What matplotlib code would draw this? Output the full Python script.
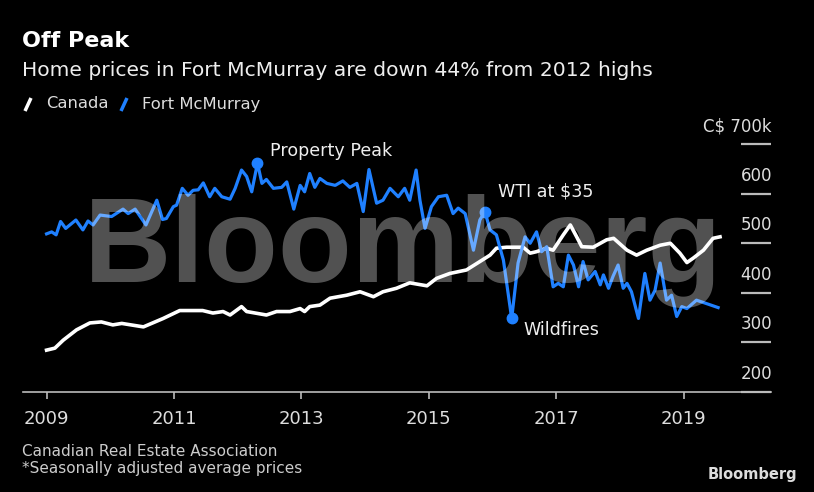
import numpy as np
import matplotlib
matplotlib.use("Agg")
import matplotlib.pyplot as plt
from matplotlib.lines import Line2D

# data (decimal year, C$ thousands)
canada_year = [2009.0, 2009.13, 2009.26, 2009.47, 2009.68, 2009.86, 2010.04, 2010.18, 2010.52, 2010.83,
               2011.09, 2011.45, 2011.61, 2011.77, 2011.88, 2012.06, 2012.14, 2012.45, 2012.61, 2012.82,
               2012.98, 2013.05, 2013.13, 2013.29, 2013.45, 2013.71, 2013.92, 2014.13, 2014.28, 2014.49,
               2014.70, 2014.97, 2015.12, 2015.33, 2015.59, 2015.80, 2015.96, 2016.06, 2016.22, 2016.48,
               2016.59, 2016.69, 2016.85, 2016.95, 2017.11, 2017.22, 2017.32, 2017.40, 2017.58, 2017.79,
               2017.90, 2018.11, 2018.26, 2018.42, 2018.63, 2018.79, 2018.94, 2019.05, 2019.15, 2019.31,
               2019.46, 2019.57]
canada_price = [284, 288, 304, 325, 339, 341, 335, 338, 331, 348,
                364, 364, 359, 362, 355, 372, 362, 355, 362, 362,
                368, 362, 372, 375, 389, 395, 402, 392, 402, 409,
                420, 414, 429, 439, 446, 463, 476, 490, 492, 492,
                480, 483, 490, 486, 517, 537, 513, 493, 492, 507,
                510, 486, 476, 486, 496, 500, 480, 461, 470, 486,
                510, 513]

fmm_year = [2009.0, 2009.08, 2009.15, 2009.22, 2009.30, 2009.46, 2009.57, 2009.65, 2009.73, 2009.84,
            2010.02, 2010.20, 2010.28, 2010.39, 2010.56, 2010.73, 2010.82, 2010.88, 2010.99, 2011.04,
            2011.13, 2011.22, 2011.30, 2011.38, 2011.46, 2011.56, 2011.64, 2011.75, 2011.88, 2011.96,
            2012.06, 2012.14, 2012.22, 2012.31, 2012.38, 2012.45, 2012.56, 2012.69, 2012.77, 2012.88,
            2012.98, 2013.05, 2013.13, 2013.21, 2013.29, 2013.40, 2013.53, 2013.65, 2013.76, 2013.87,
            2013.97, 2014.06, 2014.18, 2014.28, 2014.39, 2014.52, 2014.62, 2014.70, 2014.80, 2014.86,
            2014.94, 2015.04, 2015.15, 2015.28, 2015.38, 2015.46, 2015.57, 2015.70, 2015.80, 2015.88,
            2015.96, 2016.06, 2016.17, 2016.30, 2016.40, 2016.51, 2016.59, 2016.69, 2016.77, 2016.85,
            2016.95, 2017.03, 2017.11, 2017.19, 2017.27, 2017.35, 2017.42, 2017.50, 2017.61, 2017.69,
            2017.74, 2017.82, 2017.89, 2017.97, 2018.05, 2018.11, 2018.18, 2018.29, 2018.39, 2018.47,
            2018.55, 2018.63, 2018.73, 2018.81, 2018.89, 2018.97, 2019.05, 2019.20, 2019.36, 2019.54]
fmm_price = [519, 523, 517, 544, 530, 547, 527, 545, 537, 557,
             554, 569, 560, 569, 537, 587, 548, 550, 574, 577,
             611, 597, 607, 608, 622, 594, 611, 594, 589, 611,
             648, 635, 604, 662, 621, 629, 611, 613, 624, 569,
             617, 604, 641, 613, 631, 621, 617, 626, 613, 621,
             564, 649, 581, 587, 611, 594, 611, 587, 648, 587,
             530, 574, 594, 597, 560, 571, 560, 486, 547, 564,
             527, 517, 466, 348, 460, 513, 500, 523, 483, 493,
             412, 419, 412, 476, 456, 412, 463, 426, 443, 416,
             436, 409, 433, 456, 409, 419, 402, 348, 439, 385,
             405, 460, 385, 395, 352, 372, 368, 385, 378, 370]

event_year = [2012.31, 2015.88, 2016.30]
event_price = [662, 564, 348]
event_label = ["Property Peak", "WTI at $35", "Wildfires"]
event_offset = [(13, 12), (13, 20), (12, -12)]

x_ticks = [2009, 2011, 2013, 2015, 2017, 2019]
y_ticks = [200, 300, 400, 500, 600, 700]
y_labels = ["200", "300", "400", "500", "600", "C$ 700k"]

W, H = 814, 492
FONT = "DejaVu Sans"
BLUE = "#1f80ff"

fig = plt.figure(figsize=(W / 100, H / 100), dpi=100, facecolor="black")
ax = fig.add_axes([23 / W, 1 - 391.7 / H, 748 / W, 247.4 / H])
ax.set_facecolor("black")

ax.plot(canada_year, canada_price, color="white", lw=2.6, solid_joinstyle="round", zorder=3)
ax.plot(fmm_year, fmm_price, color=BLUE, lw=2.3, solid_joinstyle="round", zorder=4)
ax.plot(event_year, event_price, "o", color=BLUE, ms=7.5, zorder=5)
for xv, yv, lab, off in zip(event_year, event_price, event_label, event_offset):
    ax.annotate(lab, (xv, yv), xytext=off, textcoords="offset pixels",
                ha="left", va="center", color="#eeeeee", fontsize=12.6,
                family=FONT, zorder=6)

ax.set_xlim(2008.63, 2020.37)
ax.set_ylim(200, 700)
for s in ["top", "left", "right"]:
    ax.spines[s].set_visible(False)
ax.spines["bottom"].set_color("#bbbbbb")
ax.spines["bottom"].set_linewidth(1.2)

ax.set_xticks(x_ticks)
ax.set_xticklabels([str(t) for t in x_ticks], family=FONT, fontsize=13, color="#dddddd")
ax.tick_params(axis="x", direction="out", length=5, width=1.2, color="#bbbbbb", pad=8)

ax.yaxis.tick_right()
ax.set_yticks(y_ticks)
ax.tick_params(axis="y", direction="in", length=21.6, width=1.6, color="#bbbbbb",
               labelright=False, labelleft=False)
for yv, lab in zip(y_ticks, y_labels):
    ax.annotate(lab, (1.0, yv), xycoords=("axes fraction", "data"), xytext=(1, 9),
                textcoords="offset pixels", ha="right", va="bottom",
                color="#dddddd", fontsize=12, family=FONT, annotation_clip=False)

# watermark
fig.text(84 / W, 1 - 282 / H, "Bloomberg", family="Liberation Sans", weight="bold",
         fontsize=87, color="white", alpha=0.32, ha="left", va="baseline", zorder=10)

# header
fig.text(22 / W, 1 - 41 / H, "Off Peak", family=FONT, weight="bold",
         fontsize=16, color="white", va="center")
fig.text(22 / W, 1 - 70 / H, "Home prices in Fort McMurray are down 44% from 2012 highs",
         family=FONT, fontsize=14.6, color="#eeeeee", va="center")

# legend
fig.add_artist(Line2D([25 / W, 31 / W], [1 - 111 / H, 1 - 98 / H], color="white", lw=2.5,
                      transform=fig.transFigure, solid_capstyle="butt"))
fig.text(46 / W, 1 - 104 / H, "Canada", family=FONT, fontsize=11.8, color="#dddddd", va="center")
fig.add_artist(Line2D([121 / W, 127 / W], [1 - 111 / H, 1 - 98 / H], color=BLUE, lw=2.5,
                      transform=fig.transFigure, solid_capstyle="butt"))
fig.text(142 / W, 1 - 104 / H, "Fort McMurray", family=FONT, fontsize=11.8, color="#dddddd", va="center")

# footer
fig.text(22 / W, 1 - 451 / H, "Canadian Real Estate Association", family=FONT,
         fontsize=11, color="#cccccc", va="center")
fig.text(22 / W, 1 - 468 / H, "*Seasonally adjusted average prices", family=FONT,
         fontsize=11, color="#cccccc", va="center")
fig.text(797 / W, 1 - 474 / H, "Bloomberg", family=FONT, weight="bold",
         fontsize=10.5, color="#dddddd", ha="right", va="center")

fig.savefig("out.png", dpi=100, facecolor="black")
